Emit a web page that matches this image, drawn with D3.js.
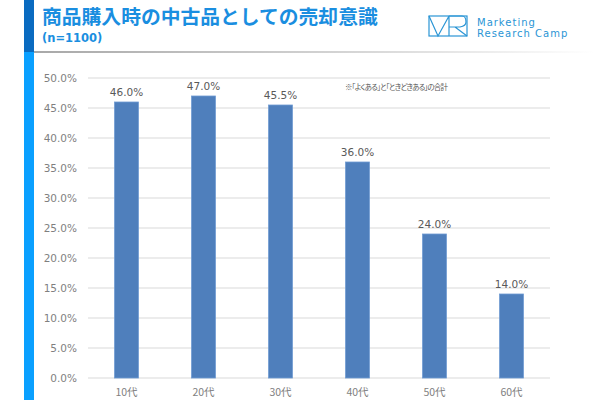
<!DOCTYPE html>
<html><head><meta charset="utf-8">
<script src="https://cdn.jsdelivr.net/npm/d3@7"></script>
<style>html,body{margin:0;padding:0;background:#fff;}svg{display:block;}</style>
</head><body>
<svg id="c" width="600" height="400"></svg>
<script>
const categories = ["10代","20代","30代","40代","50代","60代"];
const values = [46.0, 47.0, 45.5, 36.0, 24.0, 14.0];
const yTicks = [0,5,10,15,20,25,30,35,40,45,50];
const title = "商品購入時の中古品としての売却意識";
const subtitle = "(n=1100)";
const note = "※「よくある」と「ときどきある」の合計";

const svg = d3.select("#c");
const font = "'Noto Sans CJK JP','Noto Sans',sans-serif";

// left accent bars
svg.append("rect").attr("x",24).attr("y",0).attr("width",10).attr("height",52).attr("fill","#0a6bc0");
svg.append("rect").attr("x",24).attr("y",52).attr("width",10).attr("height",348).attr("fill","#0aa0ff");

// header underline gradient
const defs = svg.append("defs");
const g1 = defs.append("linearGradient").attr("id","hl");
g1.append("stop").attr("offset","0%").attr("stop-color","#a8a8a8");
g1.append("stop").attr("offset","60%").attr("stop-color","#d8d8d8");
g1.append("stop").attr("offset","100%").attr("stop-color","#ffffff");
svg.append("rect").attr("x",34).attr("y",51).attr("width",560).attr("height",2).attr("fill","url(#hl)");

svg.append("text").attr("x",42).attr("y",24).attr("font-family",font).attr("font-weight","bold")
  .attr("font-size",19.8).attr("fill","#1a8ee0").text(title);
svg.append("text").attr("x",42).attr("y",42).attr("font-family","Verdana,'DejaVu Sans',sans-serif").attr("font-weight","bold")
  .attr("font-size",11.5).attr("fill","#1a8ee0").text(subtitle);

// logo
const lg = svg.append("g").attr("stroke","#2a95d5").attr("fill","none").attr("stroke-width",1.2);
lg.append("rect").attr("x",429).attr("y",16).attr("width",38).attr("height",20);
lg.append("path").attr("d","M429,16 L438,36 L449,16 M449,16 L449,36 M449,16 L462,16 Q466,16 466,22 Q466,26 460,27 L449,27 M455,27 L467,36");
svg.append("text").attr("x",477).attr("y",26).attr("font-family","'DejaVu Sans',sans-serif").attr("font-size",10)
  .attr("letter-spacing",1.0).attr("fill","#2a95d5").text("Marketing");
svg.append("text").attr("x",477).attr("y",37).attr("font-family","'DejaVu Sans',sans-serif").attr("font-size",10)
  .attr("letter-spacing",1.0).attr("fill","#2a95d5").text("Research Camp");

// chart
const x = d3.scaleBand().domain(categories).range([88,550]).paddingInner(0.69).paddingOuter(0.345);
const y = d3.scaleLinear().domain([0,50]).range([378,78]);

const grid = svg.append("g");
grid.selectAll("line").data(yTicks).join("line")
  .attr("x1",88).attr("x2",550).attr("y1",d=>y(d)).attr("y2",d=>y(d))
  .attr("stroke","#e6e6e6").attr("stroke-width",1.5);

const yAxis = svg.append("g").attr("transform","translate(88,0)")
  .call(d3.axisLeft(y).tickValues(yTicks).tickFormat(d=>d.toFixed(1)+"%").tickSize(0).tickPadding(11));
yAxis.select(".domain").remove();
yAxis.selectAll("text").attr("font-family","Verdana,'DejaVu Sans',sans-serif").attr("font-size",10.5).attr("fill","#7f7f7f");

const xAxis = svg.append("g").attr("transform","translate(0,378)")
  .call(d3.axisBottom(x).tickSize(0).tickPadding(11));
xAxis.select(".domain").remove();
xAxis.selectAll("text").attr("font-family",font).attr("font-size",10.5).attr("fill","#7f7f7f");

svg.append("g").selectAll("rect").data(values).join("rect")
  .attr("x",(d,i)=>x(categories[i])).attr("width",x.bandwidth())
  .attr("y",d=>y(d)).attr("height",d=>y(0)-y(d))
  .attr("fill","#4f7fbc").attr("stroke","#6f9bd2").attr("stroke-width",0.8);

svg.append("g").selectAll("text").data(values).join("text")
  .attr("x",(d,i)=>x(categories[i])+x.bandwidth()/2).attr("y",d=>y(d)-6)
  .attr("text-anchor","middle").attr("font-family","Verdana,'DejaVu Sans',sans-serif").attr("font-size",10.5)
  .attr("fill","#595959").text(d=>d.toFixed(1)+"%");

svg.append("text").attr("x",345).attr("y",90).attr("font-family",font)
  .attr("font-size",7.5).style("font-feature-settings","'palt'").attr("textLength",103).attr("lengthAdjust","spacing")
  .attr("fill","#595959").text(note);
</script>
</body></html>
